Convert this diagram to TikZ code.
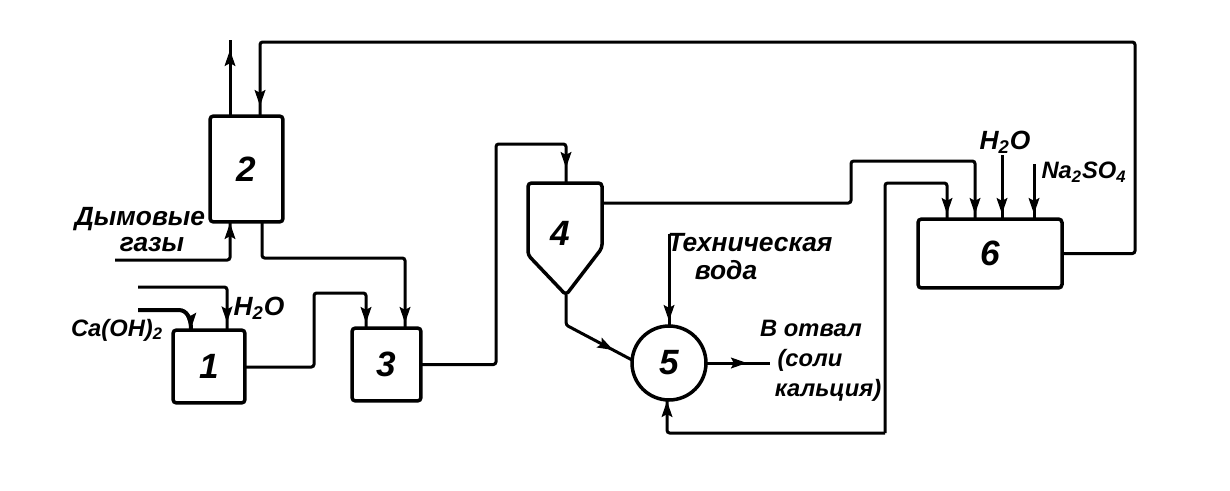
\documentclass[tikz,border=0pt]{standalone}
\usepackage{fontspec}
\setmainfont{Liberation Sans}
\usetikzlibrary{arrows.meta,decorations.markings}

\begin{document}
\begin{tikzpicture}[
                x=0.02cm, y=-0.02cm,
                block/.style={rectangle, draw, line width=0.07cm, rounded corners=2pt, outer sep=0pt, font=\bfseries\itshape\fontsize{20}{20}\selectfont},
                flow/.style={line width=0.06cm, rounded corners=1.5pt},
                head/.style={postaction={decorate}, decoration={markings, mark=at position #1 with {\arrow{Stealth[length=9pt,width=6pt,inset=1.5pt]}}}},
                head/.default={-0.1cm},
                hand/.style={font=\bfseries\itshape\fontsize{13.5}{14}\selectfont, inner sep=0pt},
                handbig/.style={hand, font=\bfseries\itshape\fontsize{15}{16}\selectfont}
            ]
                \useasboundingbox (0,0) rectangle (1230,490);

                % apparatus
                \node[block, minimum width=1.44cm, minimum height=1.46cm] (mixer) at (209,366.5) {1};
                \node[block, minimum width=1.46cm, minimum height=2.12cm] (scrubber) at (246.5,169) {2};
                \node[block, minimum width=1.38cm, minimum height=1.46cm] (tank) at (386.5,364.5) {3};
                \node[block, circle, minimum size=1.48cm] (reactor) at (669,363) {5};
                \node[block, minimum width=2.88cm, minimum height=1.38cm] (regen) at (990,253.5) {6};
                \draw[line width=0.07cm, rounded corners=2pt] (528,183) -- (602,183) -- (602,248) -- (566,295) -- (528,255) -- cycle;
                \node[font=\bfseries\itshape\fontsize{20}{20}\selectfont] (settler) at (560,233) {4};
                \coordinate (settlertop) at (566,183);
                \coordinate (settlerside) at (602,203);
                \coordinate (settlertip) at (566,295);

                % free ends
                \coordinate (gasout) at (230,40);
                \coordinate (gasin) at (115,260);
                \coordinate (waterone) at (138,287);
                \coordinate (limein) at (138,310);
                \coordinate (limeend) at (191,330);
                \coordinate (techwater) at (669,234);
                \coordinate (dump) at (770,363);
                \coordinate (watersix) at (1002,155);
                \coordinate (saltin) at (1034,164);

                % streams
                \draw[flow, head=-0.2cm] (scrubber.north -| gasout) -- (gasout);
                \draw[flow, head=-0.2cm] (regen.east) -- (1135,253.5) -- (1135,42) -- (260,42) -- (scrubber.north -| 260,0);
                \draw[flow, head=-0.02cm] (gasin) -- (230,260) -- (scrubber.south -| 230,0);
                \draw[flow, head] (scrubber.south -| 262,0) -- (262,258) -- (405,258) -- (tank.north -| 405,0);
                \draw[flow, head=-0.15cm] (waterone) -- (227,287) -- (mixer.north -| 227,0);
                \draw[flow, line width=0.08cm, head=-0.02cm] (limein) -- (176,310) .. controls (187,310) and (191,318) .. (limeend);
                \draw[flow, head] (mixer.east |- 0,367) -- (314,367) -- (314,293) -- (366,293) -- (tank.north -| 366,0);
                \draw[flow, head=-0.3cm] (tank.east) -- (496,364.5) -- (496,144) -- (566,144) -- (settlertop);
                \draw[flow, head] (settlerside) -- (851,203) -- (851,161) -- (975,161) -- (regen.north -| 975,0);
                \draw[flow, head=-0.42cm] (settlertip) -- (566,325) -- (reactor.west |- 0,360);
                \draw[flow, head] (techwater) -- (reactor.north -| techwater);
                \draw[flow, head=-0.46cm] (reactor.east) -- (dump);
                \draw[flow, head=-0.02cm] (885,433) -- (667,433) -- (reactor.south -| 667,0);
                \draw[flow, head] (885,433) -- (885,183) -- (947,183) -- (regen.north -| 947,0);
                \draw[flow, head] (watersix) -- (regen.north -| watersix);
                \draw[flow, head] (saltin) -- (regen.north -| saltin);

                % labels
                \node[handbig] (smoke) at (140,219) {Дымовые};
                \node[handbig] (gases) at (152,245) {газы};
                \node[hand] (lime) at (117,330) {Ca(OH)\textsubscript{2}};
                \node[handbig] (waterlabelone) at (259,308) {H\textsubscript{2}O};
                \node[handbig] (techlabel) at (750,243) {Техническая};
                \node[handbig] (techlabelb) at (726,270) {вода};
                \node[hand] (dumplabel) at (811,328) {В отвал};
                \node[hand] (dumplabelb) at (810,360) {(соли};
                \node[hand] (dumplabelc) at (828,390) {кальция)};
                \node[handbig] (waterlabelsix) at (1005,142) {H\textsubscript{2}O};
                \node[hand] (saltlabel) at (1084,172) {Na\textsubscript{2}SO\textsubscript{4}};
            \end{tikzpicture}
\end{document}
